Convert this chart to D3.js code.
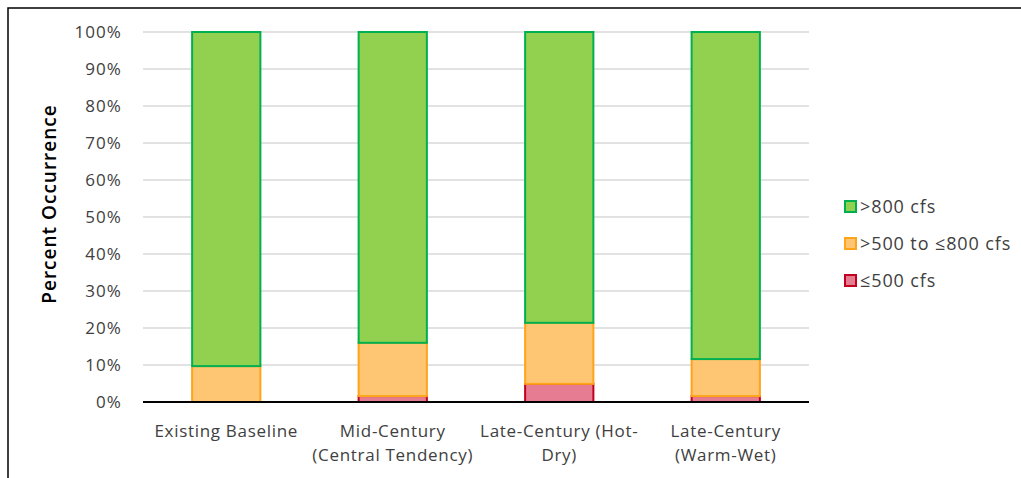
<!DOCTYPE html>
<html><head><meta charset="utf-8">
<script src="https://cdn.jsdelivr.net/npm/d3@7"></script>
<style>
body{margin:0;background:#fff;}
text{font-family:"Open Sans","Noto Sans",sans-serif;fill:#333;}
</style></head>
<body><svg id="c" width="1021" height="478"></svg>
<script>
const categories = ["Existing Baseline", "Mid-Century (Central Tendency)", "Late-Century (Hot-Dry)", "Late-Century (Warm-Wet)"];
const categoryLines = [["Existing Baseline"], ["Mid-Century", "(Central Tendency)"], ["Late-Century (Hot-", "Dry)"], ["Late-Century", "(Warm-Wet)"]];
const seriesNames = ["≤500 cfs", ">500 to ≤800 cfs", ">800 cfs"];
const low = [0, 1.6, 4.9, 1.6];
const mid = [9.7, 14.4, 16.5, 10.0];
const high = [90.3, 84.0, 78.6, 88.4];
const yTicks = [0, 10, 20, 30, 40, 50, 60, 70, 80, 90, 100];
const fills = ["#e67c91", "#fec672", "#92d050"];
const strokes = ["#c0001e", "#ffa41b", "#00b050"];

const svg = d3.select("#c");
svg.append("rect").attr("x", 8).attr("y", 8).attr("width", 1030).attr("height", 490)
  .attr("fill", "none").attr("stroke", "#000").attr("stroke-width", 1.5);

const m = {l: 143, r: 809, t: 32, b: 402};
const x = d3.scaleBand().domain(categories).range([m.l, m.r]).paddingInner(0.59).paddingOuter(0.295);
const y = d3.scaleLinear().domain([0, 100]).range([m.b, m.t]);

// gridlines
svg.append("g").selectAll("line").data(yTicks.filter(d => d > 0)).join("line")
  .attr("x1", m.l).attr("x2", m.r).attr("y1", d => y(d)).attr("y2", d => y(d))
  .attr("stroke", "#d9d9d9").attr("stroke-width", 1.3);

// y axis labels
const yAxis = d3.axisLeft(y).tickValues(yTicks).tickFormat(d => d + "%").tickSize(0).tickPadding(21);
const gy = svg.append("g").attr("transform", `translate(${m.l},0)`).call(yAxis);
gy.select(".domain").remove();
gy.selectAll("text").attr("font-size", 17).attr("letter-spacing", 1.1).style("fill", "#404040")
  .attr("font-family", "'Open Sans','Noto Sans',sans-serif");

// stacked data
const rows = categories.map((c, i) => ({cat: c, low: low[i], mid: mid[i], high: high[i]}));
const stack = d3.stack().keys(["low", "mid", "high"])(rows);
stack.forEach((layer, k) => {
  svg.append("g").selectAll("rect").data(layer.filter(d => d[1] - d[0] > 0)).join("rect")
    .attr("x", d => x(d.data.cat)).attr("width", x.bandwidth())
    .attr("y", d => y(d[1])).attr("height", d => y(d[0]) - y(d[1]))
    .attr("fill", fills[k]).attr("stroke", strokes[k]).attr("stroke-width", 2);
});

// x axis baseline
svg.append("line").attr("x1", m.l).attr("x2", m.r).attr("y1", m.b).attr("y2", m.b)
  .attr("stroke", "#000").attr("stroke-width", 2.2);

// x labels
categories.forEach((c, i) => {
  const t = svg.append("text").attr("x", x(c) + x.bandwidth() / 2).attr("y", 437)
    .attr("text-anchor", "middle").attr("font-size", 17).attr("letter-spacing", 0.7).style("fill", "#404040")
    .attr("font-family", "'Open Sans','Noto Sans',sans-serif");
  categoryLines[i].forEach((ln, j) => {
    t.append("tspan").attr("x", x(c) + x.bandwidth() / 2).attr("dy", j === 0 ? 0 : 24).text(ln);
  });
});

// y title
svg.append("text").attr("transform", "translate(56,204) rotate(-90)")
  .attr("text-anchor", "middle").attr("font-size", 19).style("fill", "#000")
  .attr("font-weight", 600).attr("letter-spacing", 1).text("Percent Occurrence");

// legend
const legOrder = [2, 1, 0];
legOrder.forEach((k, j) => {
  const ly = 207 + j * 37;
  svg.append("rect").attr("x", 845).attr("y", ly - 6).attr("width", 11).attr("height", 11)
    .attr("fill", fills[k]).attr("stroke", strokes[k]).attr("stroke-width", 2);
  svg.append("text").attr("x", 860).attr("y", ly).attr("dy", "0.35em").attr("font-size", 18)
    .attr("letter-spacing", 0.9).style("fill", "#404040").text(seriesNames[k]);
});
</script></body></html>
